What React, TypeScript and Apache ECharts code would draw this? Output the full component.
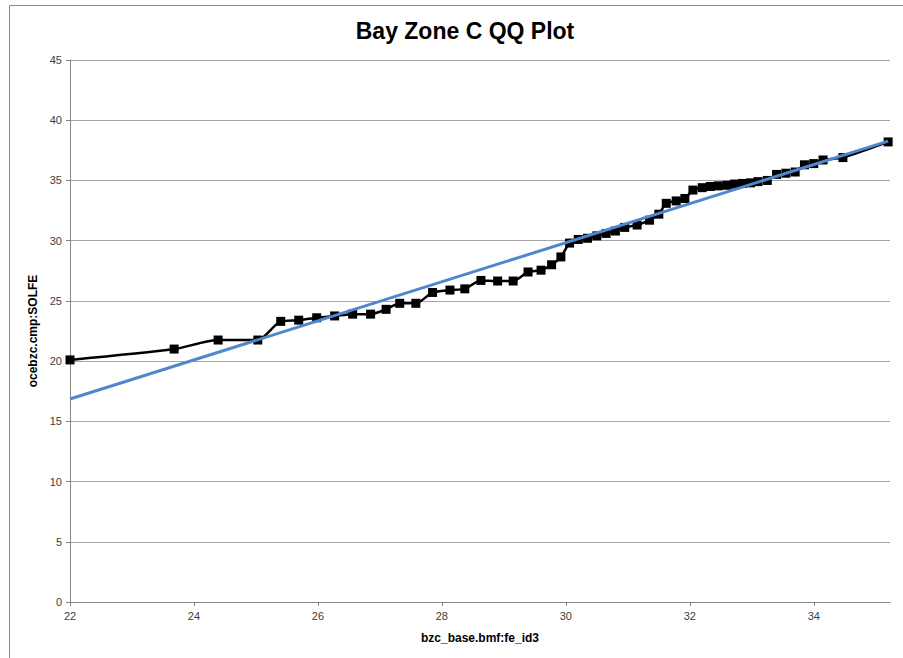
import React, { useEffect, useRef } from "react";
import * as echarts from "echarts";

const xValues = [
  22.0, 23.68, 24.39, 25.03, 25.4, 25.69, 25.98, 26.27, 26.56, 26.85, 27.1, 27.32, 27.58,
  27.85, 28.13, 28.37, 28.63, 28.9, 29.15, 29.39, 29.6, 29.77, 29.92,
  30.06, 30.2, 30.35, 30.5, 30.65, 30.8, 30.95, 31.15, 31.35, 31.5, 31.62, 31.78, 31.92,
  32.05, 32.2, 32.33, 32.46, 32.6, 32.72, 32.85, 32.98, 33.1, 33.25, 33.4, 33.55, 33.7,
  33.85, 34.0, 34.15, 34.47, 35.2,
];
const yValues = [
  20.1, 21.0, 21.75, 21.75, 23.3, 23.4, 23.6, 23.75, 23.9, 23.9, 24.3, 24.8, 24.8,
  25.7, 25.9, 26.0, 26.7, 26.65, 26.65, 27.4, 27.55, 28.0, 28.65,
  29.8, 30.1, 30.2, 30.4, 30.6, 30.8, 31.1, 31.3, 31.7, 32.2, 33.1, 33.3, 33.5,
  34.2, 34.4, 34.5, 34.55, 34.6, 34.7, 34.75, 34.8, 34.9, 35.0, 35.5, 35.6, 35.7,
  36.3, 36.4, 36.7, 36.9, 38.2,
];
const trendX = [22.0, 35.2];
const trendY = [16.85, 38.27];

const title = "Bay Zone C QQ Plot";
const xTitle = "bzc_base.bmf:fe_id3";
const yTitle = "ocebzc.cmp:SOLFE";

export default function App() {
  const ref = useRef<HTMLDivElement>(null);
  useEffect(() => {
    document.body.style.margin = "0";
    const chart = echarts.init(ref.current!, null, { renderer: "svg" });
    const font = "'Liberation Sans', Arial, sans-serif";
    chart.setOption({
      animation: false,
      backgroundColor: "#ffffff",
      title: {
        text: title,
        left: 460,
        top: 14,
        textAlign: "center",
        textStyle: { fontFamily: font, fontSize: 23, fontWeight: "bold", color: "#000" },
      },
      graphic: [
        {
          type: "rect",
          shape: { x: 9.5, y: 5.5, width: 1000, height: 1000 },
          style: { fill: "none", stroke: "#8a8a8a", lineWidth: 1 },
          silent: true,
        },
      ],
      grid: { left: 70, right: 13, top: 60, bottom: 56 },
      xAxis: {
        type: "value",
        min: 22,
        max: 35.23,
        interval: 2,
        name: xTitle,
        nameLocation: "middle",
        nameGap: 30,
        nameTextStyle: { fontFamily: font, fontSize: 12, fontWeight: "bold", color: "#000" },
        axisLine: { lineStyle: { color: "#868686" } },
        axisTick: { show: true, length: 4, lineStyle: { color: "#868686" } },
        axisLabel: {
          fontFamily: font,
          fontSize: 11,
          color: "#404040",
          margin: 8,
          showMaxLabel: false,
        },
        splitLine: { show: false },
      },
      yAxis: {
        type: "value",
        min: 0,
        max: 45,
        interval: 5,
        name: yTitle,
        nameLocation: "middle",
        nameGap: 31,
        nameTextStyle: { fontFamily: font, fontSize: 12, fontWeight: "bold", color: "#000" },
        axisLine: { show: true, lineStyle: { color: "#868686" } },
        axisTick: { show: true, length: 4, lineStyle: { color: "#868686" } },
        axisLabel: { fontFamily: font, fontSize: 11, color: "#404040", margin: 8 },
        splitLine: { show: true, lineStyle: { color: "#a6a6a6", width: 1 } },
      },
      series: [
        {
          type: "line",
          data: xValues.map((x, i) => [x, yValues[i]]),
          smooth: 0.25,
          symbol: "rect",
          symbolSize: 9,
          itemStyle: { color: "#000" },
          lineStyle: { color: "#000", width: 2.5 },
          z: 2,
        },
        {
          type: "line",
          data: trendX.map((x, i) => [x, trendY[i]]),
          symbol: "none",
          lineStyle: { color: "#4f86cc", width: 3 },
          z: 3,
        },
      ],
    });
    return () => chart.dispose();
  }, []);
  return <div ref={ref} style={{ width: 903, height: 658 }} />;
}
